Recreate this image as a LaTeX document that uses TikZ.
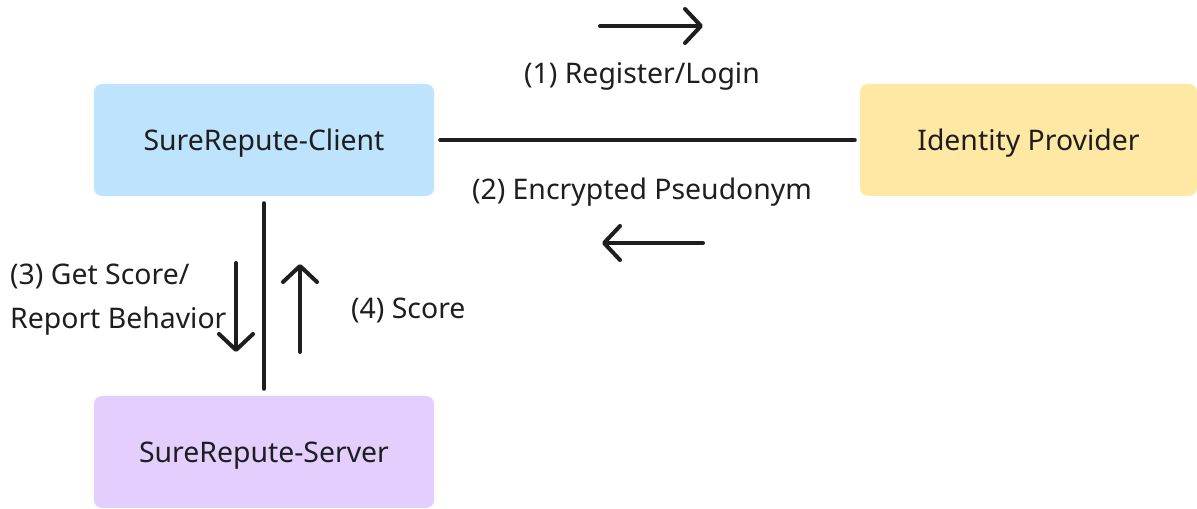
\documentclass[tikz,border=0pt]{standalone}
\usepackage{fontspec}
\setmainfont{Noto Sans}
\usetikzlibrary{arrows.meta}
\definecolor{clientblue}{RGB}{190,227,252}
\definecolor{idpyellow}{RGB}{255,232,163}
\definecolor{serverviolet}{RGB}{227,206,253}
\definecolor{ink}{RGB}{30,30,30}
\tikzset{
  box/.style={rounded corners=8bp, minimum height=112bp, inner sep=0pt,
    text depth=0pt, text=ink, font=\fontsize{28.5}{34}\selectfont},
  link/.style={draw=ink, line width=4bp, line cap=round},
  flow/.style={link, -{Straight Barb[length=16bp,width=34bp,line cap=round,line join=round]}},
  lbl/.style={text=ink, font=\fontsize{28.5}{34}\selectfont, inner sep=0pt}
}
\begin{document}
\begin{tikzpicture}[x=1bp,y=-1bp]
\useasboundingbox (0,0) rectangle (1197,509);
% participants
\node[box, fill=clientblue, minimum width=340bp] (client) at (264,140) {SureRepute-Client};
\node[box, fill=idpyellow, minimum width=337bp] (idp) at (1028.5,140) {Identity Provider};
\node[box, fill=serverviolet, minimum width=340bp] (server) at (264,452) {SureRepute-Server};
% channels
\draw[link, shorten <=6bp, shorten >=5bp] (client.east) -- (idp.west);
\draw[link, shorten <=7bp, shorten >=7bp] (client.south) -- (server.north);
% direction markers
\coordinate (r1) at (600,26);  \coordinate (r2) at (703,26);
\coordinate (l1) at (703,243); \coordinate (l2) at (602,243);
\coordinate (d1) at (236,263); \coordinate (d2) at (236,352);
\coordinate (u1) at (300,352); \coordinate (u2) at (300,264);
\draw[flow] (r1) -- (r2);
\draw[flow] (l1) -- (l2);
\draw[flow] (d1) -- (d2);
\draw[flow] (u1) -- (u2);
% message labels
\node[lbl] (m1) at (642,76) {(1) Register/Login};
\node[lbl] (m2) at (642,192) {(2) Encrypted Pseudonym};
\node[lbl, anchor=west] (m3a) at (10,276) {(3) Get Score/};
\node[lbl, anchor=west] (m3b) at (10,321) {Report Behavior};
\node[lbl, anchor=west] (m4) at (351,310) {(4) Score};
\end{tikzpicture}
\end{document}
